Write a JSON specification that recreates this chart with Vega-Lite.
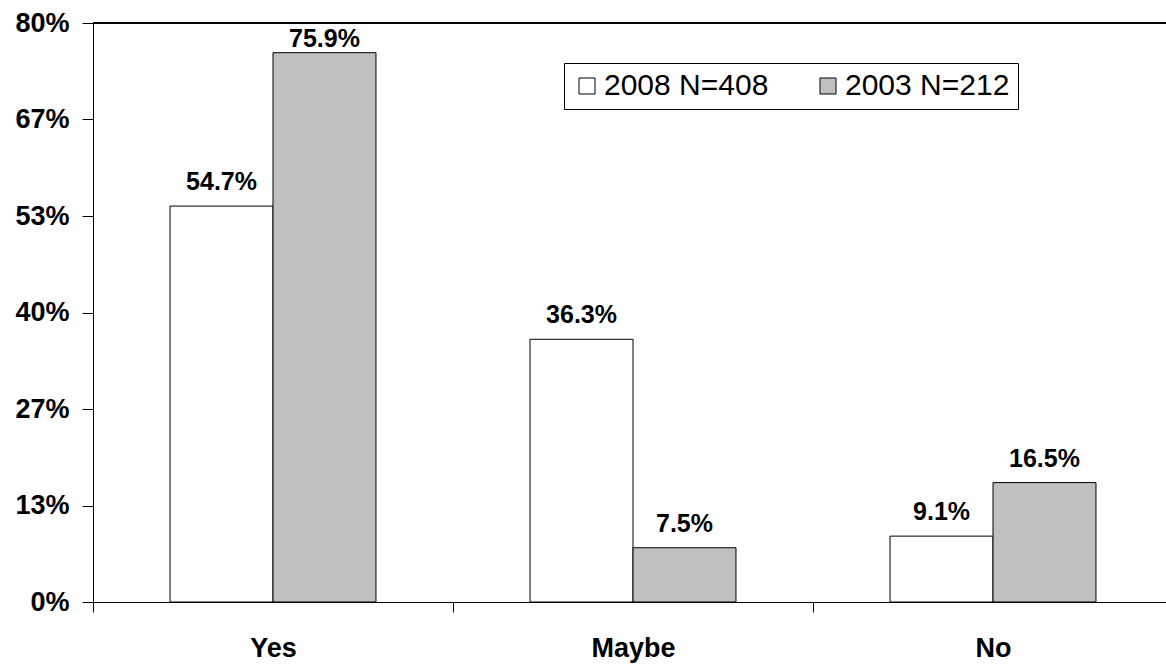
{
  "$schema": "https://vega.github.io/schema/vega-lite/v6.json",
  "width": 1073,
  "height": 579,
  "autosize": {"type": "none"},
  "padding": {"left": 93, "top": 23, "right": 0, "bottom": 62},
  "background": "white",
  "config": {
    "view": {"stroke": null},
    "font": "Liberation Sans",
    "text": {"font": "Liberation Sans"}
  },
  "data": {
    "values": [
      {"answer": "Yes", "survey": "2008 N=408", "share": 0.547},
      {"answer": "Yes", "survey": "2003 N=212", "share": 0.759},
      {"answer": "Maybe", "survey": "2008 N=408", "share": 0.363},
      {"answer": "Maybe", "survey": "2003 N=212", "share": 0.075},
      {"answer": "No", "survey": "2008 N=408", "share": 0.091},
      {"answer": "No", "survey": "2003 N=212", "share": 0.165}
    ]
  },
  "encoding": {
    "x": {
      "field": "answer",
      "type": "nominal",
      "sort": ["Yes", "Maybe", "No"],
      "scale": {"range": [0, 1080], "paddingInner": 0, "paddingOuter": 0},
      "axis": {
        "title": null,
        "tickBand": "extent",
        "tickSize": 10,
        "tickColor": "black",
        "domainColor": "black",
        "labelAngle": 0,
        "labelFont": "Liberation Sans",
        "labelFontSize": 27,
        "labelFontWeight": "bold",
        "labelColor": "black",
        "labelPadding": 23
      }
    },
    "xOffset": {
      "field": "survey",
      "sort": ["2008 N=408", "2003 N=212"],
      "scale": {"paddingInner": 0, "paddingOuter": 0.748}
    },
    "y": {
      "field": "share",
      "type": "quantitative",
      "scale": {"domain": [0, 0.8], "nice": false},
      "axis": {
        "title": null,
        "grid": false,
        "values": [0, 0.1333333333, 0.2666666667, 0.4, 0.5333333333, 0.6666666667, 0.8],
        "format": ".0%",
        "tickSize": 11,
        "tickColor": "black",
        "domainColor": "black",
        "labelFont": "Liberation Sans",
        "labelFontSize": 27,
        "labelFontWeight": "bold",
        "labelColor": "black",
        "labelPadding": 13
      }
    }
  },
  "layer": [
    {
      "mark": {"type": "bar", "stroke": "black", "strokeWidth": 1},
      "encoding": {
        "color": {
          "field": "survey",
          "type": "nominal",
          "scale": {"domain": ["2008 N=408", "2003 N=212"], "range": ["#ffffff", "#c0c0c0"]},
          "legend": {
            "title": null,
            "orient": "none",
            "direction": "horizontal",
            "legendX": 471,
            "legendY": 40,
            "padding": 8,
            "strokeColor": "black",
            "fillColor": "white",
            "symbolType": "square",
            "symbolSize": 256,
            "symbolStrokeColor": "black",
            "symbolStrokeWidth": 1,
            "labelFont": "Liberation Sans",
            "labelFontSize": 30,
            "labelColor": "black",
            "labelOffset": 2,
            "labelLimit": 400,
            "columnPadding": 44
          }
        }
      }
    },
    {
      "transform": [{"filter": "datum.share < 0.7"}],
      "mark": {
        "type": "text",
        "font": "Liberation Sans",
        "fontSize": 25,
        "fontWeight": "bold",
        "color": "black",
        "baseline": "alphabetic",
        "dy": -16
      },
      "encoding": {
        "text": {"field": "share", "format": ".1%"}
      }
    },
    {
      "transform": [{"filter": "datum.share >= 0.7"}],
      "mark": {
        "type": "text",
        "font": "Liberation Sans",
        "fontSize": 25,
        "fontWeight": "bold",
        "color": "black",
        "baseline": "alphabetic",
        "dy": -6
      },
      "encoding": {
        "text": {"field": "share", "format": ".1%"}
      }
    },
    {
      "mark": {"type": "rule", "color": "black", "strokeWidth": 1},
      "encoding": {
        "x": null,
        "xOffset": null,
        "y": {"datum": 0.8, "type": "quantitative"}
      }
    }
  ]
}
